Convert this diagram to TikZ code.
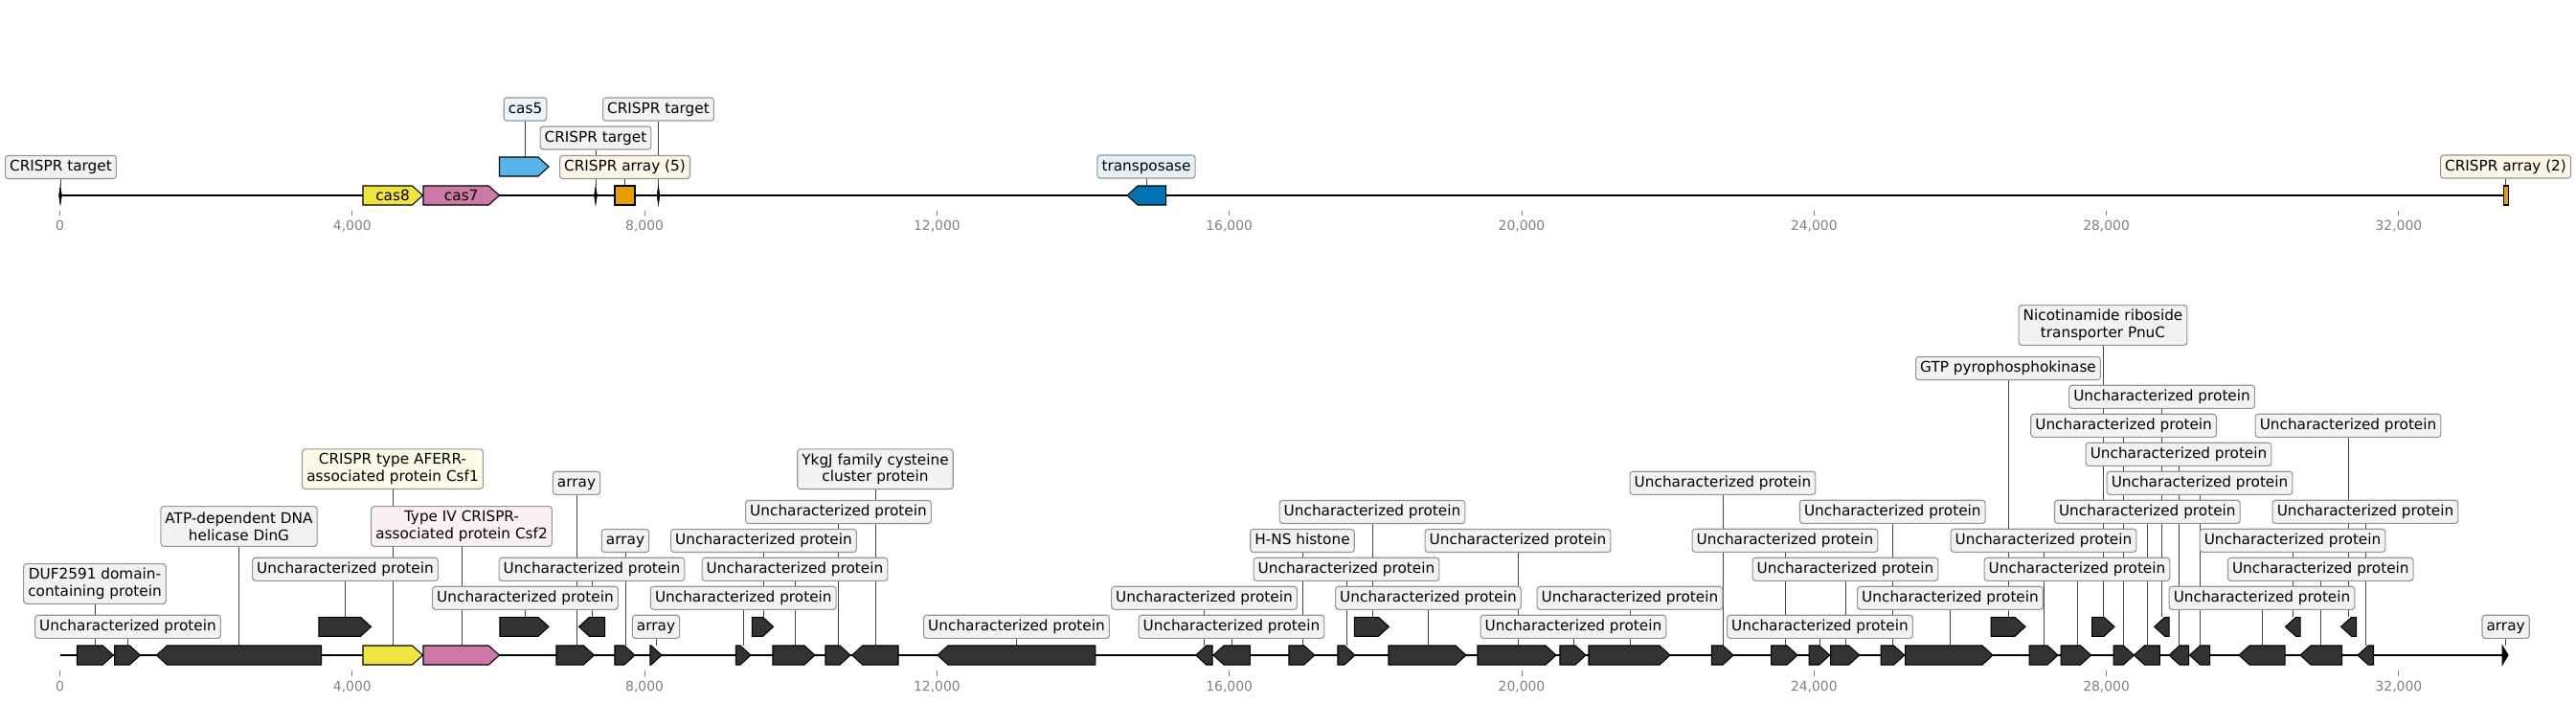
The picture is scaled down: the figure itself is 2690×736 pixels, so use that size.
\documentclass[tikz,border=0pt]{standalone}
\usepackage{fontspec}
\setmainfont{DejaVu Sans}
\usetikzlibrary{backgrounds}
\definecolor{gblack}{HTML}{333333}
\definecolor{cyellow}{HTML}{F0E442}
\definecolor{cpink}{HTML}{CC79A7}
\definecolor{cblue}{HTML}{56B4E9}
\definecolor{cdblue}{HTML}{0072B2}
\definecolor{corange}{HTML}{E69F00}
\definecolor{boxgray}{HTML}{F2F2F2}
\definecolor{boxedge}{HTML}{959595}
\definecolor{tyellow}{HTML}{FDFCE8}
\definecolor{tpink}{HTML}{FAF0F5}
\definecolor{tblue}{HTML}{EAF5FC}
\definecolor{tdblue}{HTML}{E6F1F7}
\definecolor{torange}{HTML}{FDF5E6}
\definecolor{connc}{HTML}{444444}
\definecolor{tickc}{HTML}{808080}
\newcommand\uncp{Uncharacterized protein\hspace{.318em}}
\newcommand\geneR[4]{%
  \pgfmathsetmacro\ghd{min(11,#3-#2)}%
  \pgfmathsetmacro\gsh{#3-\ghd}%
  \draw[gene,fill=#1] (#2,#4-10) -- (\gsh,#4-10) -- (#3,#4) -- (\gsh,#4+10) -- (#2,#4+10) -- cycle;}
\newcommand\geneL[4]{%
  \pgfmathsetmacro\ghd{min(11,#3-#2)}%
  \pgfmathsetmacro\gsh{#2+\ghd}%
  \draw[gene,fill=#1] (#3,#4-10) -- (\gsh,#4-10) -- (#2,#4) -- (\gsh,#4+10) -- (#3,#4+10) -- cycle;}
\newcommand\crmark[2]{\draw[gene,fill=black,line width=0.4pt] (#1-1.4,#2) -- (#1,#2-10) -- (#1+1.4,#2) -- (#1,#2+10) -- cycle;}
\begin{document}
\begin{tikzpicture}[x=0.72pt,y=-0.72pt,
  lbl/.style={draw=boxedge,fill=boxgray,rounded corners=2.2pt,line width=0.8pt,inner xsep=3.3pt,inner ysep=0pt,minimum height=17.3pt,text height=8.3pt,text depth=2.5pt,font=\fontsize{11}{12.8}\selectfont},
  lbltwo/.style={lbl,align=center,text height={},text depth={},minimum height=30pt},
  conn/.style={draw=connc,line width=0.7pt},
  gene/.style={draw=black,line width=0.75pt,line join=miter},
  track/.style={line width=1.5pt,black},
  tick/.style={draw=tickc,line width=0.7pt},
  ticklab/.style={text=tickc,font=\fontsize{10}{12}\selectfont,text height=7.3pt,text depth=0pt,inner sep=0pt},
  glab/.style={font=\fontsize{11}{12.8}\selectfont,inner sep=0pt}]
\useasboundingbox (0,0) rectangle (2690,736);
\coordinate (topl) at (0,194);
\coordinate (topu) at (0,164);
\coordinate (onl) at (0,674);
\coordinate (upl) at (0,644.3);
% ---------- ticks ----------
\foreach \k/\lab in {0/0,1/{4,000},2/{8,000},3/{12,000},4/{16,000},5/{20,000},6/{24,000},7/{28,000},8/{32,000}}{
  \pgfmathsetmacro\tx{62.5+305.3*\k}
  \draw[tick] (\tx,220) -- (\tx,225);
  \node[ticklab] (tt\k) at (\tx,235.5) {\lab};
  \draw[tick] (\tx,700) -- (\tx,706);
  \node[ticklab] (bt\k) at (\tx,716.5) {\lab};
}
% ---------- top track ----------
\draw[track] (62.5,204) -- (2617,204);
\crmark{63}{204}
\geneR{cyellow}{379}{441.5}{204}
\geneR{cpink}{442}{521.4}{204}
\geneR{cblue}{521.5}{573}{174}
\crmark{622}{204}
\draw[gene,fill=corange] (642,194) rectangle (663,214);
\crmark{687.5}{204}
\geneL{cdblue}{1177}{1217.6}{204}
\draw[gene,fill=corange] (2614,194) rectangle (2619,214);
\node[glab] (c8) at (410,204) {cas8};
\node[glab] (c7) at (481.7,204) {cas7};
\node[lbl] (t1) at (63.5,174.5) {CRISPR target};
\node[lbl,fill=tblue] (t2) at (548.5,114) {cas5};
\node[lbl] (t3) at (622,144) {CRISPR target};
\node[lbl,fill=torange] (t4) at (652.5,174.5) {CRISPR array (5)};
\node[lbl] (t5) at (687.5,114) {CRISPR target};
\node[lbl,fill=tdblue] (t6) at (1197,174) {transposase};
\node[lbl,fill=torange] (t7) at (2616.5,174) {CRISPR array (2)};
% ---------- bottom track ----------
\draw[track] (62.5,684) -- (2617,684);
\geneR{gblack}{80.4}{118.3}{684}
\geneR{gblack}{119.6}{146.4}{684}
\geneL{gblack}{163.4}{335.7}{684}
\geneR{gblack}{333}{387.5}{654.3}
\geneR{cyellow}{379}{441.5}{684}
\geneR{cpink}{442}{521.4}{684}
\geneR{gblack}{522}{573}{654.3}
\geneL{gblack}{604.5}{631.7}{654.3}
\geneR{gblack}{581}{620.5}{684}
\geneR{gblack}{642}{663}{684}
\geneR{gblack}{679}{691}{684}
\geneR{gblack}{768.3}{784}{684}
\geneR{gblack}{785.3}{807.6}{654.3}
\geneR{gblack}{807}{851}{684}
\geneR{gblack}{862}{888}{684}
\geneL{gblack}{889.7}{938}{684}
\geneL{gblack}{979}{1143.8}{684}
\geneL{gblack}{1248.7}{1266}{684}
\geneL{gblack}{1267}{1305.4}{684}
\geneR{gblack}{1346}{1372.8}{684}
\geneR{gblack}{1397}{1415}{684}
\geneR{gblack}{1414.3}{1450.4}{654.3}
\geneR{gblack}{1450}{1531}{684}
\geneR{gblack}{1543}{1625}{684}
\geneR{gblack}{1629}{1656}{684}
\geneR{gblack}{1659}{1744}{684}
\geneR{gblack}{1787.5}{1810}{684}
\geneR{gblack}{1849.5}{1877}{684}
\geneR{gblack}{1889}{1910.7}{684}
\geneR{gblack}{1911.7}{1941.7}{684}
\geneR{gblack}{1964}{1988.7}{684}
\geneR{gblack}{1989.7}{2081}{684}
\geneR{gblack}{2079}{2115}{654.3}
\geneR{gblack}{2119}{2149}{684}
\geneR{gblack}{2152}{2183.6}{684}
\geneR{gblack}{2184.5}{2208}{654.3}
\geneR{gblack}{2207}{2228.4}{684}
\geneL{gblack}{2228.4}{2255.3}{684}
\geneL{gblack}{2249.7}{2265.2}{654.3}
\geneL{gblack}{2265}{2285.5}{684}
\geneL{gblack}{2286.5}{2307.7}{684}
\geneL{gblack}{2338}{2386}{684}
\geneL{gblack}{2386.5}{2402}{654.3}
\geneL{gblack}{2402}{2445.5}{684}
\geneL{gblack}{2444.6}{2460.6}{654.3}
\geneL{gblack}{2462}{2478.5}{684}
\draw[gene,fill=black] (2613,674) -- (2619,684) -- (2613,694) -- cycle;
% labels
\node[lbltwo] (b1) at (99,609.5) {DUF2591 domain-\\containing protein};
\node[lbl] (b2) at (133.5,654.3) {\uncp};
\node[lbltwo] (b3) at (249.5,549.5) {ATP-dependent DNA\\helicase DinG};
\node[lbl] (b4) at (360.5,594.3) {\uncp};
\node[lbltwo,fill=tyellow] (b5) at (410,489.7) {CRISPR type AFERR-\\associated protein Csf1};
\node[lbltwo,fill=tpink] (b6) at (482,549.5) {Type IV CRISPR-\\associated protein Csf2};
\node[lbl] (b7) at (548.5,624.3) {\uncp};
\node[lbl] (b8) at (602,504.3) {array};
\node[lbl] (b9) at (618,594.3) {\uncp};
\node[lbl] (b10) at (653,564.5) {array};
\node[lbl] (b11) at (685,654.3) {array};
\node[lbl] (b12) at (776.3,624.3) {\uncp};
\node[lbl] (b13) at (797.5,564.5) {\uncp};
\node[lbl] (b14) at (830,594.3) {\uncp};
\node[lbl] (b15) at (875.5,534.5) {\uncp};
\node[lbltwo] (b16) at (914,489.7) {YkgJ family cysteine\\cluster protein};
\node[lbl] (b17) at (1061.5,654.3) {\uncp};
\node[lbl] (b18) at (1257.5,624.3) {\uncp};
\node[lbl] (b19) at (1286,654.3) {\uncp};
\node[lbl] (b20) at (1360,564.5) {H-NS histone\hspace{.318em}};
\node[lbl] (b21) at (1406,594.3) {\uncp};
\node[lbl] (b22) at (1433,534.5) {\uncp};
\node[lbl] (b23) at (1491.5,624.3) {\uncp};
\node[lbl] (b24) at (1585,564.5) {\uncp};
\node[lbl] (b25) at (1643,654.3) {\uncp};
\node[lbl] (b26) at (1702,624.3) {\uncp};
\node[lbl] (b27) at (1799,504.3) {\uncp};
\node[lbl] (b28) at (1864,564.3) {\uncp};
\node[lbl] (b29) at (1900.5,654.3) {\uncp};
\node[lbl] (b30) at (1927,594.3) {\uncp};
\node[lbl] (b31) at (1976.3,534.3) {\uncp};
\node[lbl] (b32) at (2036.5,624.3) {\uncp};
\node[lbl] (b33) at (2097,384.5) {GTP pyrophosphokinase\hspace{.318em}};
\node[lbl] (b34) at (2134,564.3) {\uncp};
\node[lbl] (b35) at (2169,594.3) {\uncp};
\node[lbltwo] (b36) at (2196,339.5) {Nicotinamide riboside\\transporter PnuC};
\node[lbl] (b37) at (2217.6,444.3) {\uncp};
\node[lbl] (b38) at (2242.3,534.3) {\uncp};
\node[lbl] (b39) at (2257.5,414.3) {\uncp};
\node[lbl] (b40) at (2275,474.3) {\uncp};
\node[lbl] (b41) at (2297,504.3) {\uncp};
\node[lbl] (b42) at (2362,624.3) {\uncp};
\node[lbl] (b43) at (2394,564.3) {\uncp};
\node[lbl] (b44) at (2423.3,594.3) {\uncp};
\node[lbl] (b45) at (2452,444.3) {\uncp};
\node[lbl] (b46) at (2470,534.3) {\uncp};
\node[lbl] (b47) at (2616.6,654.3) {array};
% ---------- connectors (behind boxes) ----------
\begin{scope}[on background layer]
\fill[white] (0,0) rectangle (2690,736);
\foreach \n in {t1,t3,t4,t5,t6,t7}{\draw[conn] (\n) -- (\n |- topl);}
\draw[conn] (t2) -- (t2 |- topu);
\foreach \n in {b1,b2,b3,b5,b6,b8,b10,b11,b12,b14,b15,b16,b17,b18,b19,b20,b21,b23,b24,b25,b26,b27,b28,b29,b30,b31,b32,b34,b35,b37,b38,b40,b41,b42,b44,b46,b47}{\draw[conn] (\n) -- (\n |- onl);}
\foreach \n in {b4,b7,b9,b13,b22,b33,b36,b39,b43,b45}{\draw[conn] (\n) -- (\n |- upl);}
\end{scope}
\end{tikzpicture}
\end{document}
